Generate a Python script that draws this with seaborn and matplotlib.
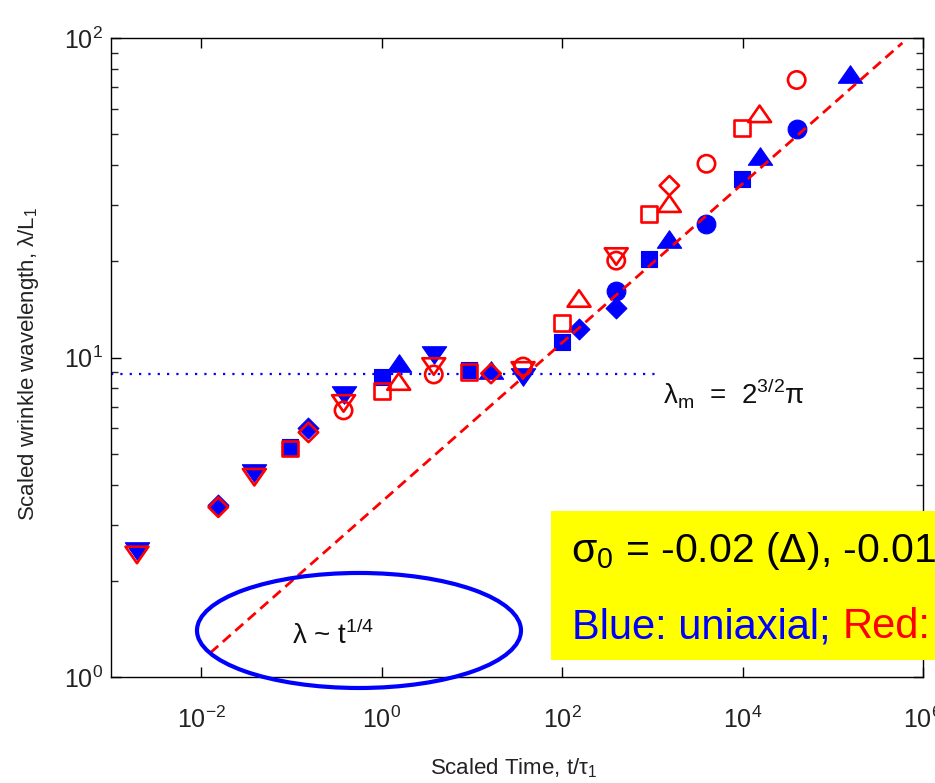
import numpy as np
import pandas as pd
import matplotlib
matplotlib.use("Agg")
import matplotlib.pyplot as plt
import matplotlib.ticker as mticker
from matplotlib.patches import Ellipse, Rectangle
from matplotlib.path import Path
import seaborn as sns

# ---------------- data ----------------
# Blue = uniaxial (filled markers)
blue_tri_dn_t = [0.00194, 0.0388, 0.378, 3.78, 36.9]
blue_tri_dn_l = [2.48, 4.34, 7.61, 10.15, 8.66]
blue_diam_t = [0.01545, 0.1545, 154, 398]
blue_diam_l = [3.45, 6.0, 12.3, 14.3]
blue_sq_t = [0.0975, 1.0, 9.26, 100, 926, 9750]
blue_sq_l = [5.23, 8.66, 9.11, 11.2, 20.4, 36.3]
blue_tri_up_t = [1.545, 16.3, 1545, 15450, 154500]
blue_tri_up_l = [9.58, 9.11, 23.5, 42.8, 77.2]
blue_circ_t = [398, 3981, 39800]
blue_circ_l = [16.2, 26.2, 52.0]

# Red = biaxial (open markers)
red_tri_dn_t = [0.00194, 0.0388, 0.378, 3.78, 36.9, 398]
red_tri_dn_l = [2.41, 4.22, 7.18, 9.37, 9.11, 20.7]
red_circ_t = [0.378, 3.78, 36.9, 398, 3981, 39800]
red_circ_l = [6.83, 8.85, 9.37, 20.1, 40.4, 73.9]
red_diam_t = [0.01545, 0.1545, 16.3, 1545]
red_diam_l = [3.40, 5.83, 8.91, 34.5]
red_sq_t = [0.0975, 1.0, 9.26, 100, 926, 9750]
red_sq_l = [5.19, 7.88, 8.98, 12.8, 28.2, 52.3]
red_tri_up_t = [1.545, 154, 1545, 15450]
red_tri_up_l = [8.41, 15.3, 30.3, 57.9]

# power-law guide  lambda ~ t^(1/4)
fit_t = [0.0126, 5.9e5]
fit_lam = [1.19, 96.5]
# lambda_m = 2^(3/2) pi
lam_m_t = [1e-3, 1.1e3]
lam_m_val = [8.886, 8.886]

x_ticks = [1e-2, 1e0, 1e2, 1e4, 1e6]
x_tick_labels = [r"$\mathregular{10^{-2}}$", r"$\mathregular{10^{0}}$",
                 r"$\mathregular{10^{2}}$", r"$\mathregular{10^{4}}$",
                 r"$\mathregular{10^{6}}$"]
y_ticks = [1e0, 1e1, 1e2]
y_tick_labels = [r"$\mathregular{10^{0}}$", r"$\mathregular{10^{1}}$",
                 r"$\mathregular{10^{2}}$"]

# ---------------- style ----------------
sns.set_style("ticks")
plt.rcParams["font.family"] = ["Liberation Sans", "DejaVu Sans"]
plt.rcParams["xtick.direction"] = "in"
plt.rcParams["ytick.direction"] = "in"
plt.rcParams["xtick.top"] = True
plt.rcParams["ytick.right"] = True


def closed_marker(pts):
    verts = list(pts) + [pts[0]]
    return Path(verts, closed=True)


TRI_UP = closed_marker([(0, 0.72), (-1, -0.72), (1, -0.72)])
TRI_DN = closed_marker([(0, -0.72), (1, 0.72), (-1, 0.72)])
DIAM = closed_marker([(0, 1), (1, 0), (0, -1), (-1, 0)])

fig = plt.figure(figsize=(9.35, 7.83), dpi=100)
ax = fig.add_axes([111 / 935, 1 - 677 / 783, 812 / 935, 639 / 783])
ax.set_xscale("log")
ax.set_yscale("log")

BLUE = "#0000ff"
RED = "#ff0000"

blue_sets = [
    (blue_tri_dn_t, blue_tri_dn_l, TRI_DN, 17.5),
    (blue_diam_t, blue_diam_l, DIAM, 15),
    (blue_sq_t, blue_sq_l, "s", 12),
    (blue_tri_up_t, blue_tri_up_l, TRI_UP, 17.5),
    (blue_circ_t, blue_circ_l, "o", 13.5),
]
red_sets = [
    (red_tri_dn_t, red_tri_dn_l, TRI_DN, 16.5),
    (red_circ_t, red_circ_l, "o", 12.5),
    (red_diam_t, red_diam_l, DIAM, 14),
    (red_sq_t, red_sq_l, "s", 11.5),
    (red_tri_up_t, red_tri_up_l, TRI_UP, 16.5),
]

for t, l, m, ms in blue_sets:
    sns.scatterplot(x=t, y=l, marker=m, s=ms ** 2, color=BLUE,
                    edgecolor=BLUE, linewidth=0.8, ax=ax, zorder=3,
                    legend=False)
for t, l, m, ms in red_sets:
    sns.scatterplot(x=t, y=l, marker=m, s=ms ** 2, color=RED,
                    facecolor="none", edgecolor=RED, linewidth=1.9,
                    ax=ax, zorder=4, legend=False)

sns.lineplot(x=lam_m_t, y=lam_m_val, ax=ax, color=BLUE, lw=1.6,
             linestyle=(0, (1, 3.2)), zorder=2, legend=False)
ax.lines[-1].set_dash_capstyle("butt")
sns.lineplot(x=fit_t, y=fit_lam, ax=ax, color=RED, lw=2.0,
             linestyle=(0, (3.8, 2.2)), zorder=5, legend=False)

ax.set_xlim(1e-3, 1e6)
ax.set_ylim(1e0, 1e2)

ax.xaxis.set_major_locator(mticker.FixedLocator(x_ticks))
ax.xaxis.set_major_formatter(mticker.FixedFormatter(x_tick_labels))
ax.xaxis.set_minor_locator(mticker.NullLocator())
ax.yaxis.set_major_locator(mticker.FixedLocator(y_ticks))
ax.yaxis.set_major_formatter(mticker.FixedFormatter(y_tick_labels))
ax.yaxis.set_minor_locator(mticker.LogLocator(base=10, subs=np.arange(2, 10)))
ax.yaxis.set_minor_formatter(mticker.NullFormatter())

ax.tick_params(axis="both", which="major", length=7.5, width=1.0,
               labelsize=18, color="black", labelcolor="#222222")
ax.tick_params(axis="x", which="major", pad=21)
ax.tick_params(axis="y", which="major", pad=6)
ax.tick_params(axis="y", which="minor", length=5, width=1.0)
for sp in ax.spines.values():
    sp.set_linewidth(1.0)
    sp.set_color("black")
    sp.set_visible(True)

ax.set_xlabel("Scaled Time, t/τ$_\\mathregular{1}$", fontsize=16, color="#222222")
ax.set_ylabel("Scaled wrinkle wavelength, λ/L$_\\mathregular{1}$", fontsize=16,
              color="#222222")
ax.xaxis.set_label_coords(0.496, -0.124)
ax.yaxis.set_label_coords(-0.086, 0.49)

# annotations
ax.text(0.68, 0.429, "λ$_\\mathregular{m}$  =  2$^\\mathregular{3/2}$π",
        transform=ax.transAxes, fontsize=20, ha="left", va="baseline",
        color="#111111")
ax.text(0.223, 0.052, "λ ~ t$^\\mathregular{1/4}$", transform=ax.transAxes,
        fontsize=20, ha="left", va="baseline", color="#111111")

ell = Ellipse((0.3054, 0.0728), 0.399, 0.18, transform=ax.transAxes,
              fill=False, edgecolor=BLUE, linewidth=3.0, clip_on=False,
              zorder=6)
ax.add_patch(ell)

# yellow note box
box = Rectangle((551 / 935, 1 - 660 / 783), 0.5, (660 - 511) / 783,
                transform=fig.transFigure, facecolor="#ffff00",
                edgecolor="none", zorder=10)
fig.patches.append(box)
fig.text(571 / 935, 1 - 562 / 783, "σ$_\\mathregular{0}$ = -0.02 (Δ), -0.01",
         fontsize=29.5, color="black", ha="left", va="baseline", zorder=11)
t1 = fig.text(572 / 935, 1 - 638 / 783, "Blue: uniaxial; ", fontsize=30,
              color=BLUE, ha="left", va="baseline", zorder=11)
fig.canvas.draw()
bb = t1.get_window_extent(renderer=fig.canvas.get_renderer())
fig.text(bb.x1 / fig.bbox.width, 1 - 638 / 783, "Red:", fontsize=30,
         color=RED, ha="left", va="baseline", zorder=11)

fig.savefig("out.png", dpi=100)
